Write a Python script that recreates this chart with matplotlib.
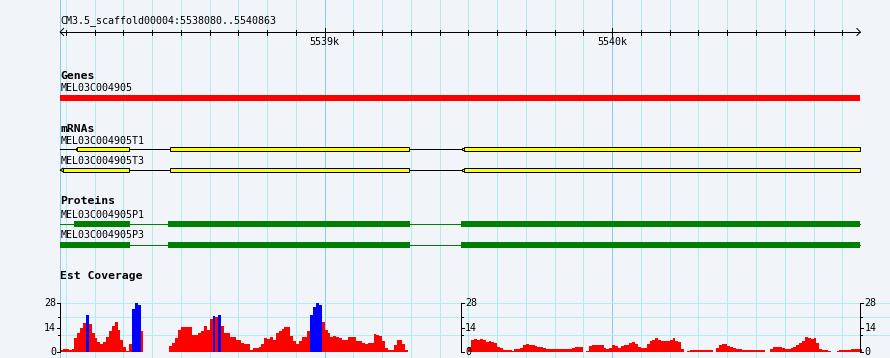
import matplotlib
matplotlib.use('Agg')
import matplotlib.pyplot as plt
from matplotlib.patches import Rectangle, Polygon

# region shown
ref_name = 'CM3.5_scaffold00004'
view_start = 5538080
view_end = 5540863
major_ticks = [5539000, 5540000]
major_labels = ['5539k', '5540k']

# Genes track
gene_name = 'MEL03C004905'
gene_span = (5538080, 5540863)

# mRNAs track
mrna_names = ['MEL03C004905T1', 'MEL03C004905T3']
mrna_exons = [
    [(5538140, 5538321), (5538462, 5539295), (5539484, 5540863)],
    [(5538091, 5538321), (5538462, 5539295), (5539484, 5540863)],
]
mrna_utrs = [
    [(5538136, 5538140), (5539477, 5539484)],
    [(5539477, 5539484)],
]
mrna_arrow = [None, (5538080, 5538091)]

# Proteins track
protein_names = ['MEL03C004905P1', 'MEL03C004905P3']
protein_cds = [
    [(5538128, 5538323), (5538455, 5539296), (5539474, 5540863)],
    [(5538080, 5538323), (5538455, 5539296), (5539474, 5540863)],
]

# Est coverage (10 bp bins from view_start)
cov_bin = 10
cov_max = 28
cov_split = 5539474
cov_values = [
    1.5, 2, 2, 1.5, 2, 8, 11, 14, 17, 21.5,
    16, 11, 8, 6, 5, 6, 8.5, 12, 15, 17.5,
    13, 7, 3, 0.5, 5, 25, 28, 27, 12, 0,
    0, 0, 0, 0, 0, 0, 0, 0, 3.5, 5.5,
    8, 13, 14.5, 14.5, 14.5, 14.5, 10, 10, 11, 12,
    15, 13, 19, 20.5, 20, 21.5, 15, 11, 11, 9,
    9, 7.3, 7, 5.5, 4.6, 5, 1.5, 2.7, 2.7, 3,
    5, 8, 7.5, 9, 7.3, 11, 12, 13.5, 14.3, 14.3,
    9.5, 6.6, 5, 6.6, 8.5, 8.5, 12, 21.6, 26, 28,
    27, 17.5, 13, 11, 9, 9.5, 9, 8, 7, 7,
    8.5, 9, 9, 6.6, 6.6, 5.3, 4.6, 5.3, 5.5, 10.5,
    10, 9.5, 6.5, 2.6, 1.3, 1.3, 4, 7.3, 7.3, 5,
    1.5, 0, 0, 0, 0, 0, 0, 0, 0, 0,
    0, 0, 0, 0, 0, 0, 0, 0, 0, 0,
    0, 0, 3, 7, 7.4, 7, 7.5, 7, 6, 6.5,
    5.7, 5.2, 3.2, 2.5, 1.3, 1.3, 1.2, 0.5, 1.9, 1.9,
    2.5, 4.4, 4.7, 4.3, 4.2, 3.5, 3.2, 3.2, 2.2, 1.9,
    1.9, 1.9, 1.9, 1.9, 1.9, 1.9, 1.9, 1.9, 2.5, 3.2,
    3.2, 3.2, 0, 0.8, 3.5, 4.2, 4.2, 4.2, 4, 2.7,
    2, 2.3, 4, 3.5, 2.6, 3.5, 4.2, 4.4, 5.5, 6.1,
    5, 3.2, 2.6, 2.5, 5, 6.3, 7.2, 8, 6.8, 6.5,
    6.5, 6.3, 7.2, 8.2, 6.3, 6.1, 2, 0, 1, 1.5,
    1.5, 1.5, 1.5, 1.5, 1.5, 1.5, 1.5, 0.3, 2.5, 4.2,
    4.6, 4.5, 3.5, 3, 2.7, 1.9, 1.9, 1.5, 1.3, 1.3,
    1.3, 1.3, 1.3, 1.3, 1.3, 0, 0, 1.9, 3, 3,
    3, 2.5, 1.9, 1.9, 2.5, 3.2, 4, 5.3, 6.7, 8.5,
    8, 7.6, 8, 5.5, 2, 1.3, 1.3, 0.8, 0, 0,
    0.5, 1.3, 1.3, 1.3, 1.5, 1.9, 1.9, 1.9, 1.9,
]
cov_high = [9, 25, 26, 27, 53, 55, 87, 88, 89, 90]

# ---- layout (pixels) ----
W, H = 890, 358
px0, px1 = 60.1, 860.4
bpp = (view_end - view_start) / (px1 - px0)
x_left = view_start - px0 * bpp
x_right = x_left + W * bpp

bg = '#f1f4f9'
grid_c = '#aeeeee'
major_c = '#87cdee'
lw1 = 0.72
small = dict(family='DejaVu Sans Mono', size=7.2)
bold = dict(family='DejaVu Sans Mono', size=8.2, weight='bold')

fig = plt.figure(figsize=(W / 100, H / 100), dpi=100)
fig.patch.set_facecolor(bg)
ax = fig.add_axes([0, 0, 1, 1])
ax.set_xlim(x_left, x_right)
ax.set_ylim(H, 0)
ax.axis('off')

# vertical grid
for b in range(view_start + 20, view_end, 100):
    c = major_c if b in major_ticks else grid_c
    ax.axvline(b, color=c, lw=lw1, zorder=0)
ax.axvline(view_start, color=major_c, lw=lw1, zorder=0)

# ruler
ry = 32
ax.text(view_start + 0.5 * bpp, 21, ref_name + ':%d..%d' % (view_start, view_end),
        ha='left', va='center', **small)
ax.plot([view_start, view_end], [ry, ry], color='k', lw=lw1)
ax.plot([view_start + 3.5 * bpp, view_start, view_start + 3.5 * bpp],
        [ry - 3.5, ry, ry + 3.5], color='k', lw=lw1)
ax.plot([view_end - 3.5 * bpp, view_end, view_end - 3.5 * bpp],
        [ry - 3.5, ry, ry + 3.5], color='k', lw=lw1)
for b in range(view_start + 20, view_end, 100):
    if b in major_ticks:
        ax.plot([b, b], [27.7, 36.7], color='k', lw=lw1)
    else:
        ax.plot([b, b], [30, 34.7], color='k', lw=lw1)
for b, lab in zip(major_ticks, major_labels):
    ax.text(b, 42.3, lab, ha='center', va='center', **small)

# Genes
ax.text(view_start, 76, 'Genes', ha='left', va='center', **bold)
ax.text(view_start + 0.5 * bpp, 88, gene_name, ha='left', va='center', **small)
ax.add_patch(Rectangle((gene_span[0], 94.7), gene_span[1] - gene_span[0], 6,
                       color='#ff0000', lw=0))

# mRNAs
ax.text(view_start, 128.7, 'mRNAs', ha='left', va='center', **bold)
for k, name in enumerate(mrna_names):
    ty = 140.5 + k * 20.5
    cy = 149.3 + k * 20.7
    ax.text(view_start + 0.5 * bpp, ty, name, ha='left', va='center', **small)
    ax.plot([view_start, view_end], [cy, cy], color='k', lw=lw1, zorder=2)
    for s, e in mrna_exons[k]:
        ax.add_patch(Rectangle((s, cy - 2), e - s, 4, facecolor='#ffff00',
                               edgecolor='k', lw=lw1, zorder=3))
    for s, e in mrna_utrs[k]:
        ax.add_patch(Rectangle((s, cy - 1), e - s, 2, facecolor='#ffff00',
                               edgecolor='k', lw=lw1, zorder=3))
    if mrna_arrow[k]:
        s, e = mrna_arrow[k]
        ax.add_patch(Polygon([(s, cy), (e, cy - 2), (e, cy + 2)], closed=True,
                             facecolor='#ffff00', edgecolor='k', lw=lw1, zorder=3))

# Proteins
ax.text(view_start, 201.5, 'Proteins', ha='left', va='center', **bold)
for k, name in enumerate(protein_names):
    ty = 214.5 + k * 20.5
    cy = 223.7 + k * 21
    ax.text(view_start + 0.5 * bpp, ty, name, ha='left', va='center', **small)
    ax.plot([view_start, view_end], [cy, cy], color='#008000', lw=lw1, zorder=2)
    for s, e in protein_cds[k]:
        ax.add_patch(Rectangle((s, cy - 3), e - s, 6, color='#008000', lw=0, zorder=3))

# Est Coverage
ax.text(view_start, 275.8, 'Est Coverage', ha='left', va='center', **bold)

cax = fig.add_axes([0, (H - 352.3) / H, 1, 49 / H])
cax.set_xlim(x_left, x_right)
cax.set_ylim(0, cov_max)
cax.axis('off')
cax.patch.set_alpha(0)

cax.hlines([0, 10, 20, 28], view_start, x_right, color=grid_c, lw=lw1, zorder=0)
starts = [view_start + i * cov_bin for i in range(len(cov_values))]
colors = ['#0000ff' if i in cov_high else '#ff0000' for i in range(len(cov_values))]
cax.bar(starts, cov_values, width=cov_bin, align='edge', color=colors,
        lw=0, zorder=2, antialiased=False)

def cov_axis(xb, side):
    cax.plot([xb, xb], [0, cov_max], color='k', lw=lw1, clip_on=False, zorder=4)
    d = -1 if side == 'left' else 1
    for v in [0, 14, 28]:
        cax.plot([xb, xb + d * 3 * bpp], [v, v], color='k', lw=lw1,
                 clip_on=False, zorder=4)
        cax.text(xb + d * 4 * bpp, v, str(v), ha='right' if side == 'left' else 'left',
                 va='center', clip_on=False, **small)
    for v in [10, 20]:
        cax.plot([xb, xb + d * 2 * bpp], [v, v], color='k', lw=lw1,
                 clip_on=False, zorder=4)

cov_axis(view_start, 'left')
cov_axis(cov_split, 'right')
cov_axis(view_end, 'right')

fig.savefig('out.png', dpi=100, facecolor=bg)
